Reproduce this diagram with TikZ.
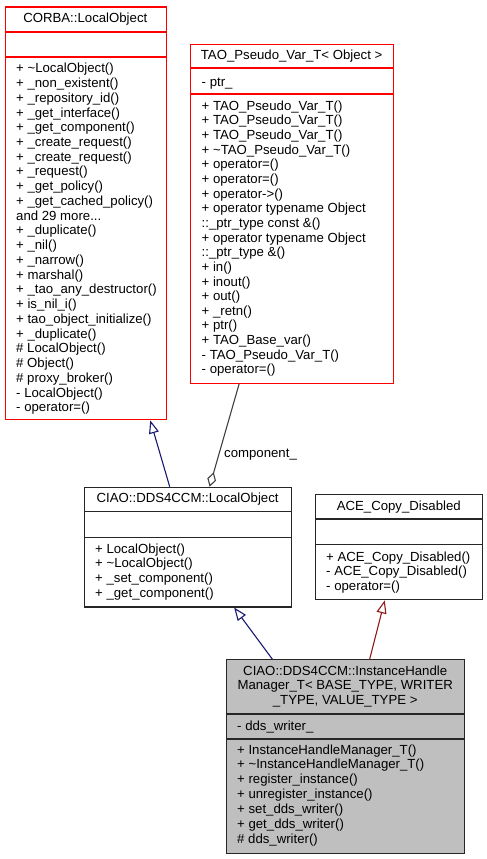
\documentclass[tikz,border=0pt]{standalone}
\usepackage{fontspec}
\setmainfont{Liberation Sans}
\usetikzlibrary{arrows.meta,calc}
\definecolor{navyedge}{HTML}{191970}
\definecolor{rededge}{HTML}{8B1A1A}
\definecolor{grayedge}{HTML}{404040}
\definecolor{boxred}{HTML}{FF0000}
\definecolor{boxgray}{HTML}{BFBFBF}
\definecolor{boxedge}{HTML}{262626}
\newcommand\mythreedots{...}
\begin{document}
\begin{tikzpicture}[x=1pt,y=-1pt,
  umlbox/.style={draw, line width=1.1pt, inner sep=0pt, anchor=north west},
  redbox/.style={umlbox, draw=boxred, fill=white},
  blackbox/.style={umlbox, draw=boxedge, fill=white},
  graybox/.style={umlbox, draw=boxedge, fill=boxgray},
  divred/.style={draw=boxred, line width=1.1pt},
  divblack/.style={draw=boxedge, line width=1.1pt},
  txt/.style={inner sep=0pt, font=\fontsize{13.2}{14.7}\selectfont},
  member/.style={txt, anchor=base west},
  titletext/.style={txt, anchor=base},
  inherit/.style={line width=1.1pt, -{Triangle[open,length=13pt,width=10pt,line width=1.1pt]}},
  aggregate/.style={line width=1.1pt, draw=grayedge, -{Diamond[open,length=15pt,width=9pt,line width=1.1pt]}}
]
\useasboundingbox (0,0) rectangle (487,859);

% ---------------- CORBA::LocalObject
\node[redbox, minimum width=160.7pt, minimum height=412.8pt] (corba) at (5,6.5) {};
\draw[divred] ([yshift=-25.5pt]corba.north west) -- ([yshift=-25.5pt]corba.north east);
\draw[divred] ([yshift=-50.5pt]corba.north west) -- ([yshift=-50.5pt]corba.north east);
\node[titletext] (corbat) at (85.3,23) {CORBA::LocalObject};
\foreach \t [count=\i] in {
  {+ \textasciitilde LocalObject()},
  {+ \_non\_existent()},
  {+ \_repository\_id()},
  {+ \_get\_interface()},
  {+ \_get\_component()},
  {+ \_create\_request()},
  {+ \_create\_request()},
  {+ \_request()},
  {+ \_get\_policy()},
  {+ \_get\_cached\_policy()},
  {and 29 more\mythreedots},
  {+ \_duplicate()},
  {+ \_nil()},
  {+ \_narrow()},
  {+ marshal()},
  {+ \_tao\_any\_destructor()},
  {+ is\_nil\_i()},
  {+ tao\_object\_initialize()},
  {+ \_duplicate()},
  {\# LocalObject()},
  {\# Object()},
  {\# proxy\_broker()},
  {- LocalObject()},
  {- operator=()}}
  \node[member] (corbam\i) at (16,72.8+14.74*\i-14.74) {\t};

% ---------------- TAO_Pseudo_Var_T
\node[redbox, minimum width=203.3pt, minimum height=339pt] (tao) at (190,44) {};
\draw[divred] ([yshift=-24pt]tao.north west) -- ([yshift=-24pt]tao.north east);
\draw[divred] ([yshift=-50pt]tao.north west) -- ([yshift=-50pt]tao.north east);
\node[titletext] (taot) at (291.6,59.5) {TAO\_Pseudo\_Var\_T< Object >};
\node[member] (taoa1) at (201.5,86) {- ptr\_};
\foreach \t [count=\i] in {
  {+ TAO\_Pseudo\_Var\_T()},
  {+ TAO\_Pseudo\_Var\_T()},
  {+ TAO\_Pseudo\_Var\_T()},
  {+ \textasciitilde TAO\_Pseudo\_Var\_T()},
  {+ operator=()},
  {+ operator=()},
  {+ operator->()},
  {+ operator typename Object},
  {::\_ptr\_type const \&()},
  {+ operator typename Object},
  {::\_ptr\_type \&()},
  {+ in()},
  {+ inout()},
  {+ out()},
  {+ \_retn()},
  {+ ptr()},
  {+ TAO\_Base\_var()},
  {- TAO\_Pseudo\_Var\_T()},
  {- operator=()}}
  \node[member] (taom\i) at (201.5,110.2+14.65*\i-14.65) {\t};

% ---------------- CIAO::DDS4CCM::LocalObject
\node[blackbox, minimum width=206.7pt, minimum height=119.7pt] (ciao) at (84.3,486.7) {};
\draw[divblack] ([yshift=-25pt]ciao.north west) -- ([yshift=-25pt]ciao.north east);
\draw[divblack] ([yshift=-50.6pt]ciao.north west) -- ([yshift=-50.6pt]ciao.north east);
\node[titletext] (ciaot) at (187.6,502.6) {CIAO::DDS4CCM::LocalObject};
\foreach \t [count=\i] in {
  {+ LocalObject()},
  {+ \textasciitilde LocalObject()},
  {+ \_set\_component()},
  {+ \_get\_component()}}
  \node[member] (ciaom\i) at (95,553.2+14.6*\i-14.6) {\t};

% ---------------- ACE_Copy_Disabled
\node[blackbox, minimum width=167pt, minimum height=105.3pt] (ace) at (315.3,494) {};
\draw[divblack] ([yshift=-25pt]ace.north west) -- ([yshift=-25pt]ace.north east);
\draw[divblack] ([yshift=-50.3pt]ace.north west) -- ([yshift=-50.3pt]ace.north east);
\node[titletext] (acet) at (398.8,510.2) {ACE\_Copy\_Disabled};
\foreach \t [count=\i] in {
  {+ ACE\_Copy\_Disabled()},
  {- ACE\_Copy\_Disabled()},
  {- operator=()}}
  \node[member] (acem\i) at (326,561.2+14.5*\i-14.5) {\t};

% ---------------- InstanceHandleManager_T
\node[graybox, minimum width=238.3pt, minimum height=193.4pt] (inst) at (226,659.3) {};
\draw[divblack] ([yshift=-54.7pt]inst.north west) -- ([yshift=-54.7pt]inst.north east);
\draw[divblack] ([yshift=-79.7pt]inst.north west) -- ([yshift=-79.7pt]inst.north east);
\node[titletext] (instt1) at (345.2,675.2) {CIAO::DDS4CCM::InstanceHandle};
\node[titletext] (instt2) at (345.2,689.8) {Manager\_T< BASE\_TYPE, WRITER};
\node[titletext] (instt3) at (345.2,704.5) {\_TYPE, VALUE\_TYPE >};
\node[member] (insta1) at (237,730.5) {- dds\_writer\_};
\foreach \t [count=\i] in {
  {+ InstanceHandleManager\_T()},
  {+ \textasciitilde InstanceHandleManager\_T()},
  {+ register\_instance()},
  {+ unregister\_instance()},
  {+ set\_dds\_writer()},
  {+ get\_dds\_writer()},
  {\# dds\_writer()}}
  \node[member] (instm\i) at (237,754+14.85*\i-14.85) {\t};

% ---------------- connectors
\draw[inherit, draw=navyedge]
  ($(ciao.north west)!0.411!(ciao.north east)$) -- ($(corba.south west)!0.898!(corba.south east)$);
\draw[aggregate]
  ($(tao.south west)!0.24!(tao.south east)$) -- ($(ciao.north west)!0.603!(ciao.north east)$);
\node[member] (complabel) at (224,457) {component\_};
\draw[inherit, draw=navyedge]
  ($(inst.north west)!0.194!(inst.north east)$) -- ($(ciao.south west)!0.721!(ciao.south east)$);
\draw[inherit, draw=rededge]
  ($(inst.north west)!0.600!(inst.north east)$) -- ($(ace.south west)!0.413!(ace.south east)$);
\end{tikzpicture}
\end{document}
